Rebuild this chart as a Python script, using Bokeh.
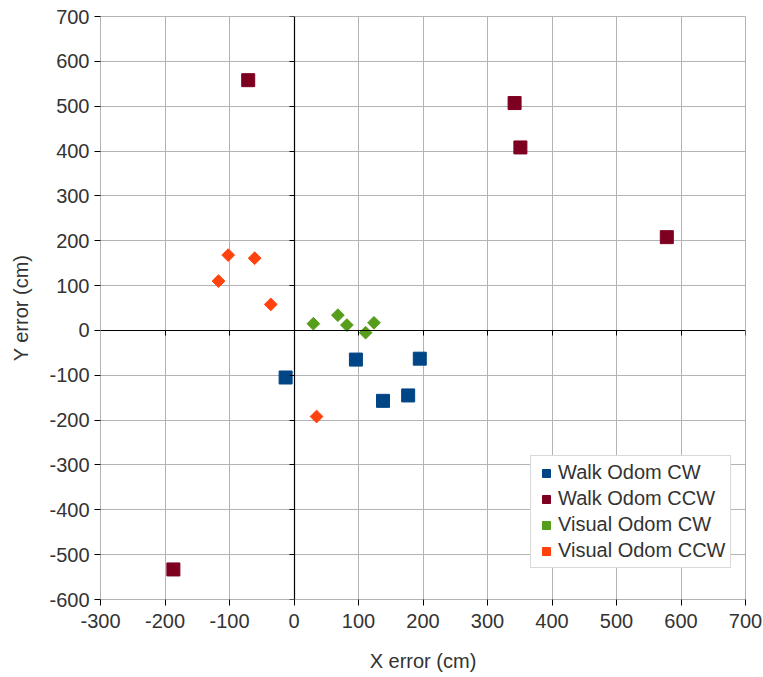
import math
from bokeh.plotting import figure
from bokeh.models import LinearAxis, FixedTicker, Legend, LegendItem, PrintfTickFormatter
from bokeh.embed import file_html
from bokeh.resources import INLINE

# Position error of each trial (cm)
walk_cw_x = [-13, 96, 138, 177, 195]
walk_cw_y = [-105, -65, -157, -145, -63]

walk_ccw_x = [-71, 342, 351, 578, -187]
walk_ccw_y = [558, 507, 408, 208, -533]

visual_cw_x = [30, 68, 82, 111, 124]
visual_cw_y = [15, 34, 12, -5, 17]

visual_ccw_x = [-102, -61, -117, -36, 35]
visual_ccw_y = [168, 161, 110, 58, -192]

x_ticks = list(range(-300, 701, 100))
y_ticks = list(range(-600, 701, 100))

FONT = "Liberation Sans"
TEXT = "#333333"
GRID = "#b3b3b3"

p = figure(width=763, height=677, output_backend="svg", toolbar_location=None,
           x_range=(-300, 700), y_range=(-600, 700),
           min_border_left=100, min_border_right=18, min_border_top=16, min_border_bottom=78,
           x_axis_label="X error (cm)", y_axis_label="Y error (cm)")
p.outline_line_color = GRID
p.background_fill_color = "white"
p.border_fill_color = "white"

for ax, ticks in ((p.xaxis[0], x_ticks), (p.yaxis[0], y_ticks)):
    ax.ticker = FixedTicker(ticks=ticks)
    ax.formatter = PrintfTickFormatter(format="%d")
    ax.axis_line_color = GRID
    ax.major_tick_line_color = "black"
    ax.major_tick_out = 6
    ax.major_tick_in = 0
    ax.minor_tick_line_color = None
    ax.major_label_text_font = FONT
    ax.major_label_text_font_size = "20px"
    ax.major_label_text_color = TEXT
    ax.axis_label_text_font = FONT
    ax.axis_label_text_font_size = "20px"
    ax.axis_label_text_font_style = "normal"
    ax.axis_label_text_color = TEXT
p.xaxis.major_label_standoff = 8
p.xaxis.axis_label_standoff = 19
p.yaxis.major_label_standoff = 5
p.yaxis.axis_label_standoff = 14

p.xgrid.ticker = FixedTicker(ticks=x_ticks)
p.ygrid.ticker = FixedTicker(ticks=y_ticks)
p.grid.grid_line_color = GRID
p.grid.grid_line_width = 1

# Zero axes crossing the plot, with their own tick marks
x_zero = LinearAxis(fixed_location=0, ticker=FixedTicker(ticks=x_ticks))
y_zero = LinearAxis(fixed_location=0, ticker=FixedTicker(ticks=y_ticks))
for ax in (x_zero, y_zero):
    ax.axis_line_color = "black"
    ax.axis_line_width = 1.2
    ax.major_tick_line_color = "black"
    ax.major_tick_out = 5
    ax.major_tick_in = 0
    ax.minor_tick_line_color = None
    ax.major_label_text_font_size = "0px"
    ax.major_label_text_alpha = 0
    ax.major_label_standoff = 0
p.add_layout(x_zero, "below")
p.add_layout(y_zero, "left")

r1 = p.scatter(walk_cw_x, walk_cw_y, marker="square", size=13,
               fill_color="#004586", line_color="#004586")
r2 = p.scatter(walk_ccw_x, walk_ccw_y, marker="square", size=13,
               fill_color="#7e0021", line_color="#7e0021")
r3 = p.scatter(visual_cw_x, visual_cw_y, marker="square", size=9, angle=math.pi / 4,
               fill_color="#579d1c", line_color="#579d1c")
r4 = p.scatter(visual_ccw_x, visual_ccw_y, marker="square", size=9, angle=math.pi / 4,
               fill_color="#ff420e", line_color="#ff420e")

legend = Legend(items=[
    LegendItem(label="Walk Odom CW", renderers=[r1]),
    LegendItem(label="Walk Odom CCW", renderers=[r2]),
    LegendItem(label="Visual Odom CW", renderers=[r3]),
    LegendItem(label="Visual Odom CCW", renderers=[r4]),
], location=(430, 31))
legend.label_text_font = FONT
legend.label_text_font_size = "20px"
legend.label_text_color = TEXT
legend.border_line_color = GRID
legend.background_fill_alpha = 1
legend.padding = 5
legend.spacing = 3
legend.glyph_width = 20
legend.glyph_height = 22
legend.label_height = 22
legend.label_standoff = 2
legend.margin = 0
p.add_layout(legend, "center")

open("out.html", "w").write(file_html(p, INLINE))
